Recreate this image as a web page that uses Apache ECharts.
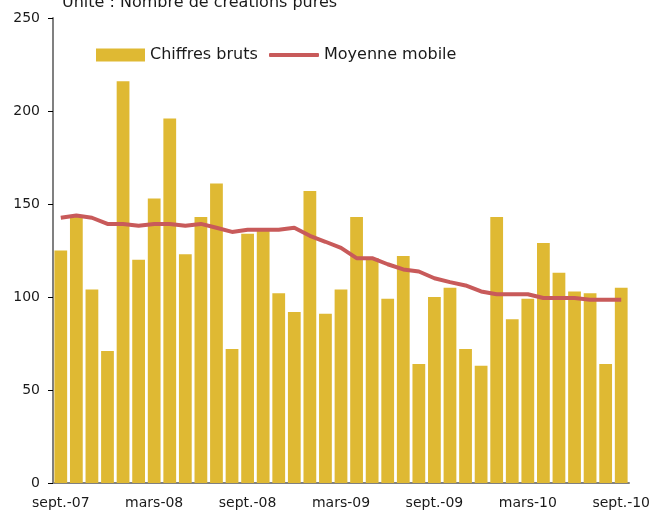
<!DOCTYPE html>
<html>
<head>
<meta charset="utf-8">
<script src="https://cdn.jsdelivr.net/npm/echarts@6/dist/echarts.min.js"></script>
<style>
  html, body { margin: 0; padding: 0; background: #fff; }
  #chart { width: 653px; height: 511px; }
</style>
</head>
<body>
<div id="chart"></div>
<script>
var months = [
    'sept.-07', 'oct.-07', 'nov.-07', 'déc.-07', 'janv.-08', 'févr.-08',
    'mars-08', 'avr.-08', 'mai-08', 'juin-08', 'juil.-08', 'août-08',
    'sept.-08', 'oct.-08', 'nov.-08', 'déc.-08', 'janv.-09', 'févr.-09',
    'mars-09', 'avr.-09', 'mai-09', 'juin-09', 'juil.-09', 'août-09',
    'sept.-09', 'oct.-09', 'nov.-09', 'déc.-09', 'janv.-10', 'févr.-10',
    'mars-10', 'avr.-10', 'mai-10', 'juin-10', 'juil.-10', 'août-10',
    'sept.-10'
];
var chiffresBruts = [
    125, 143, 104, 71, 216, 120,
    153, 196, 123, 143, 161, 72,
    134, 137, 102, 92, 157, 91,
    104, 143, 121, 99, 122, 64,
    100, 105, 72, 63, 143, 88,
    99, 129, 113, 103, 102, 64,
    105
];
var moyenneMobile = [
    142.6, 143.8, 142.6, 139.3, 139.3, 138.3,
    139.3, 139.3, 138.3, 139.3, 137.2, 135.0,
    136.1, 136.1, 136.1, 137.2, 132.9, 129.7,
    126.4, 120.9, 120.9, 117.6, 114.8, 113.7,
    110.1, 108.0, 106.2, 103.0, 101.5, 101.5,
    101.5, 99.5, 99.5, 99.5, 98.5, 98.5,
    98.5
];
var yTicks = [0, 50, 100, 150, 200, 250];

var myChart = echarts.init(document.getElementById('chart'));
var font = 'DejaVu Sans, Verdana, sans-serif';
var legendText = { fontSize: 16, color: '#1a1a1a', fontFamily: font };

var option = {
    backgroundColor: '#ffffff',
    animation: false,
    textStyle: { fontFamily: font },
    title: {
        text: 'Unité : Nombre de créations pures',
        left: 57,
        top: -10,
        textStyle: { fontSize: 16, fontWeight: 'normal', color: '#1a1a1a', fontFamily: font }
    },
    legend: [{
        left: 91,
        top: 42,
        itemWidth: 49,
        itemHeight: 13,
        textStyle: legendText,
        data: [{ name: 'Chiffres bruts', icon: 'rect' }]
    }, {
        left: 264,
        top: 42,
        itemWidth: 50,
        itemHeight: 4,
        textStyle: legendText,
        data: [{ name: 'Moyenne mobile', icon: 'roundRect' }]
    }],
    grid: { left: 53, right: 22, top: 18, bottom: 28 },
    xAxis: {
        type: 'category',
        data: months,
        boundaryGap: true,
        axisLine: { lineStyle: { color: '#808080', width: 2 } },
        axisTick: { interval: 5, length: 5, lineStyle: { color: '#000' } },
        axisLabel: { interval: 5, fontSize: 14, color: '#1a1a1a', margin: 13 }
    },
    yAxis: {
        type: 'value',
        min: yTicks[0],
        max: yTicks[yTicks.length - 1],
        interval: 50,
        axisLine: { show: true, lineStyle: { color: '#808080', width: 2 } },
        axisTick: { show: true, length: 5, lineStyle: { color: '#000' } },
        axisLabel: { fontSize: 14, color: '#1a1a1a', margin: 13 },
        splitLine: { show: false }
    },
    series: [{
        name: 'Chiffres bruts',
        type: 'bar',
        data: chiffresBruts,
        barCategoryGap: '18%',
        itemStyle: { color: '#dfb933' }
    }, {
        name: 'Moyenne mobile',
        type: 'line',
        data: moyenneMobile,
        symbol: 'none',
        lineStyle: { color: '#c85a5a', width: 4 },
        itemStyle: { color: '#c85a5a' }
    }]
};
myChart.setOption(option);
</script>
</body>
</html>
